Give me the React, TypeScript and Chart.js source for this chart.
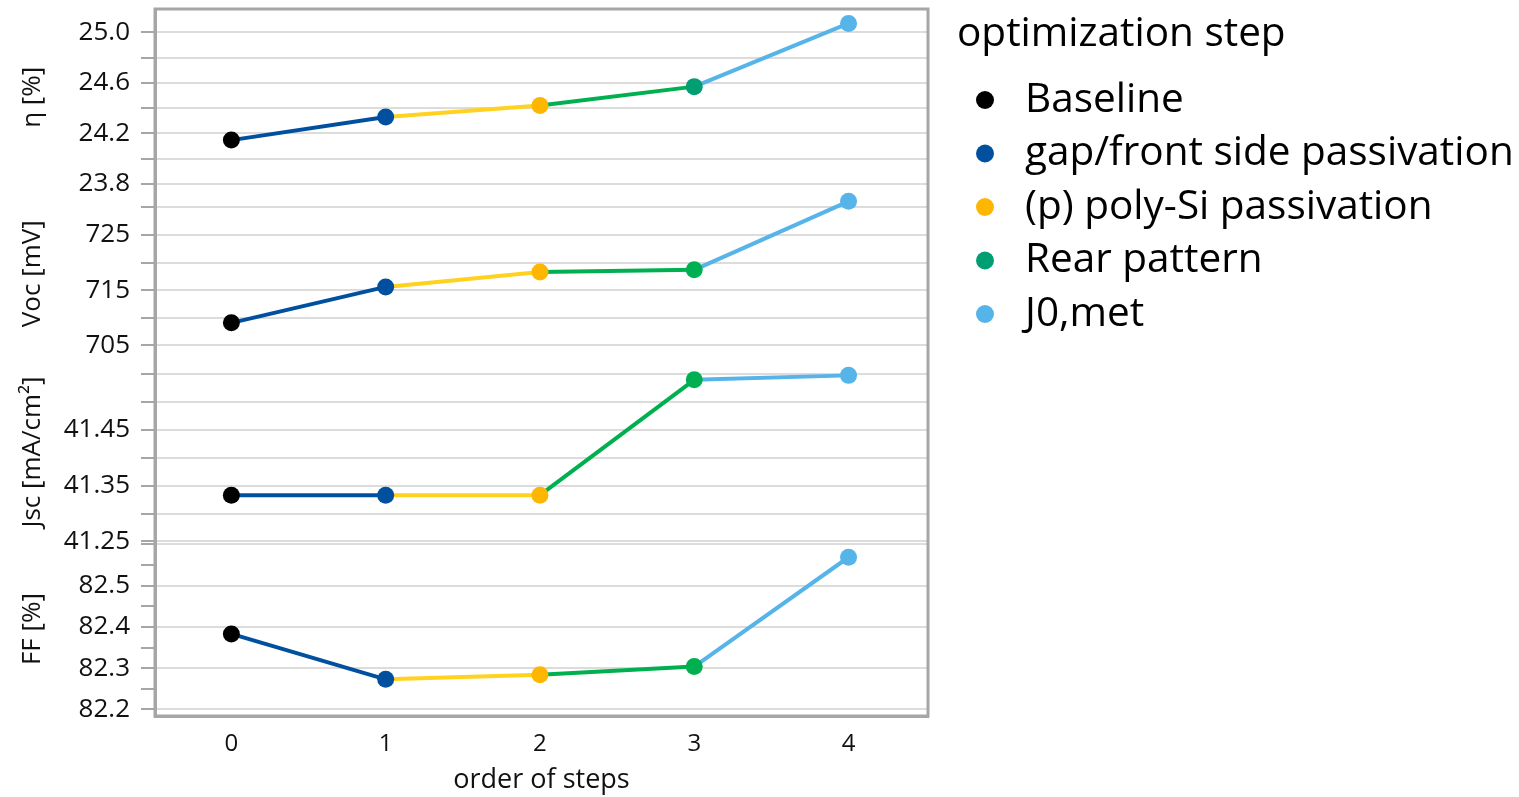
import React, { useEffect, useRef } from 'react';
import { Chart, registerables } from 'chart.js';

Chart.register(...registerables);

// ---------- data ----------
const steps = [0, 1, 2, 3, 4];
const stepNames = [
  'Baseline',
  'gap/front side passivation',
  '(p) poly-Si passivation',
  'Rear pattern',
  'J0,met',
];
const legendTitle = 'optimization step';

const etaValues = [24.147, 24.33, 24.42, 24.57, 25.07];
const vocValues = [709.1, 715.6, 718.3, 718.7, 731.1];
const jscValues = [41.333, 41.333, 41.333, 41.54, 41.548];
const ffValues = [82.383, 82.273, 82.284, 82.304, 82.569];

const etaTickLabels = [23.8, 24.2, 24.6, 25.0];
const vocTickLabels = [705, 715, 725];
const jscTickLabels = [41.25, 41.35, 41.45];
const ffTickLabels = [82.2, 82.3, 82.4, 82.5];

// ---------- style ----------
const FONT = '"Open Sans", "Noto Sans", sans-serif';
const TEXT = '#111111';
const FRAME = '#A6A6A6';
const GRID = '#DCDCDC';
const markerColors = ['#000000', '#00509F', '#FFB600', '#00B050', '#56B4E9'];
const etaMarkerColors = ['#000000', '#00509F', '#FFB600', '#009E73', '#56B4E9'];
const legendColors = ['#000000', '#00509F', '#FFB600', '#009E73', '#56B4E9'];
const segmentColors = ['#00509F', '#FFD21F', '#00B050', '#56B4E9'];

function makeDataset(label: string, values: number[], axis: string, pointColors: string[]) {
  return {
    label,
    yAxisID: axis,
    data: steps.map((s, i) => ({ x: s, y: values[i] })),
    borderWidth: 4,
    borderColor: segmentColors[0],
    pointRadius: 8.5,
    pointHoverRadius: 8.5,
    pointBackgroundColor: pointColors,
    pointBorderColor: pointColors,
    pointBorderWidth: 0,
    tension: 0,
    segment: {
      borderColor: (ctx: any) => segmentColors[ctx.p0DataIndex],
    },
  };
}

function yScale(
  title: string,
  min: number,
  max: number,
  step: number,
  labels: number[],
  decimals: number,
  stackWeight: number,
  order: number,
  majorGridOnly: boolean
) {
  const isLabel = (v: number) => labels.some((l) => Math.abs(l - v) < 1e-6);
  return {
    type: 'linear',
    position: 'left',
    stack: 'panels',
    stackWeight,
    weight: order,
    min,
    max,
    ticks: {
      stepSize: step,
      includeBounds: false,
      autoSkip: false,
      padding: 11,
      color: TEXT,
      font: { family: FONT, size: 26 },
      callback: (v: any) => (isLabel(Number(v)) ? Number(v).toFixed(decimals) : ''),
    },
    grid: {
      color: (ctx: any) => {
        if (!majorGridOnly) return GRID;
        const v = ctx.tick ? ctx.tick.value : 0;
        return Math.abs(v * 10 - Math.round(v * 10)) < 1e-6 ? GRID : 'rgba(0,0,0,0)';
      },
      lineWidth: 2,
      drawTicks: true,
      tickLength: 14,
      tickColor: FRAME,
      tickWidth: 2,
    },
    border: { color: FRAME, width: 3 },
    title: {
      display: true,
      text: title,
      color: TEXT,
      font: { family: FONT, size: 26 },
      padding: { top: 17, bottom: 0 },
    },
    afterFit: (s: any) => {
      s.width = 155;
      s.paddingTop = 0;
      s.paddingBottom = 0;
    },
  };
}

const framePlugin = {
  id: 'frame',
  beforeDatasetsDraw(chart: any) {
    const { ctx, chartArea } = chart;
    ctx.save();
    ctx.strokeStyle = FRAME;
    ctx.lineWidth = 3;
    ctx.strokeRect(chartArea.left, chartArea.top, chartArea.right - chartArea.left, chartArea.bottom - chartArea.top);
    ctx.restore();
  },
};

const legendPlugin = {
  id: 'stepLegend',
  afterDraw(chart: any) {
    const { ctx, chartArea } = chart;
    const x0 = chartArea.right;
    ctx.save();
    ctx.textBaseline = 'middle';
    ctx.textAlign = 'left';
    ctx.font = `40.5px ${FONT}`;
    ctx.fillStyle = '#000000';
    ctx.fillText(legendTitle, x0 + 29, 34);
    stepNames.forEach((name, i) => {
      const y = 100 + i * 53.5;
      ctx.beginPath();
      ctx.arc(x0 + 57, y, 9, 0, Math.PI * 2);
      ctx.fillStyle = legendColors[i];
      ctx.fill();
      ctx.fillStyle = '#000000';
      ctx.fillText(name, x0 + 97, y);
    });
    ctx.restore();
  },
};

export default function App() {
  const canvasRef = useRef<HTMLCanvasElement | null>(null);

  useEffect(() => {
    if (!canvasRef.current) return;
    const chart = new Chart(canvasRef.current, {
      type: 'line',
      data: {
        datasets: [
          makeDataset('η', etaValues, 'yEta', etaMarkerColors),
          makeDataset('Voc', vocValues, 'yVoc', markerColors),
          makeDataset('Jsc', jscValues, 'yJsc', markerColors),
          makeDataset('FF', ffValues, 'yFF', markerColors),
        ] as any,
      },
      options: {
        animation: false,
        responsive: true,
        maintainAspectRatio: false,
        events: [],
        layout: { padding: { top: 9, right: 591, bottom: 0, left: 0 } },
        plugins: {
          legend: { display: false },
          tooltip: { enabled: false },
        },
        scales: {
          x: {
            type: 'linear',
            min: -0.495,
            max: 4.515,
            ticks: {
              stepSize: 1,
              includeBounds: false,
              autoSkip: false,
              padding: 14,
              color: TEXT,
              font: { family: FONT, size: 24 },
              callback: (v: any) => (steps.includes(Number(v)) ? String(v) : ''),
            },
            grid: { display: false, drawTicks: false },
            border: { color: FRAME, width: 3 },
            title: {
              display: true,
              text: 'order of steps',
              color: TEXT,
              font: { family: FONT, size: 27 },
              padding: { top: 0, bottom: 0 },
            },
            afterFit: (s: any) => {
              s.height = 81;
              s.paddingLeft = 0;
              s.paddingRight = 0;
            },
          },
          yEta: yScale('η [%]', 23.788, 25.184, 0.2, etaTickLabels, 1, 176.5, 4, false),
          yVoc: yScale('Voc [mV]', 702.01, 733.96, 5, vocTickLabels, 0, 176.5, 3, false),
          yJsc: yScale('Jsc [mA/cm²]', 41.249, 41.572, 0.05, jscTickLabels, 2, 180, 2, false),
          yFF: yScale('FF [%]', 82.184, 82.606, 0.05, ffTickLabels, 1, 174, 1, true),
        } as any,
      },
      plugins: [framePlugin, legendPlugin],
    });
    return () => chart.destroy();
  }, []);

  return (
    <div style={{ position: 'fixed', left: 0, top: 0, width: '1519px', height: '797px', background: '#fff' }}>
      <canvas ref={canvasRef} />
    </div>
  );
}
